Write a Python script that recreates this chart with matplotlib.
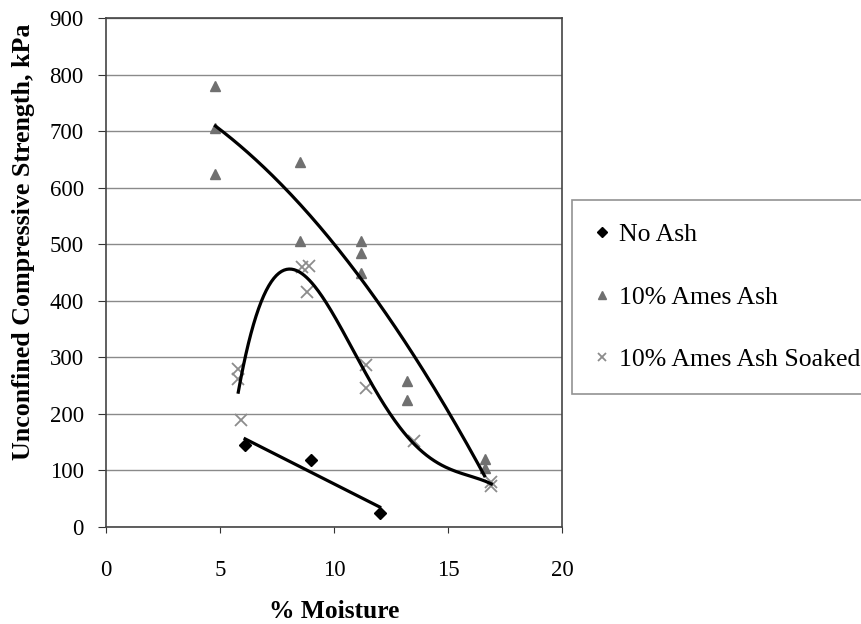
import numpy as np
import matplotlib
matplotlib.use("Agg")
from matplotlib import pyplot as plt

plt.rcParams['font.family'] = ['Liberation Serif', 'DejaVu Serif']

# data
no_ash_x = [6.1, 9.0, 12.0]
no_ash_y = [145, 118, 25]

ames_x = [4.8, 4.8, 4.8, 8.5, 8.5, 11.2, 11.2, 11.2, 13.2, 13.2, 16.6, 16.6]
ames_y = [780, 705, 625, 645, 505, 505, 485, 450, 258, 225, 120, 105]

soaked_x = [5.8, 5.8, 5.9, 8.6, 8.9, 8.8, 11.4, 11.4, 13.5, 16.9, 16.9]
soaked_y = [280, 262, 190, 460, 462, 415, 287, 245, 152, 80, 72]

x_ticks = [0, 5, 10, 15, 20]
y_ticks = [0, 100, 200, 300, 400, 500, 600, 700, 800, 900]


def trend(x, y, deg):
    c = np.polyfit(x, y, deg)
    xs = np.linspace(min(x), max(x), 200)
    return xs, np.polyval(c, xs)


fig = plt.figure(figsize=(8.62, 6.24), dpi=100)
ax = fig.add_axes([0.123, 0.1554, 0.529, 0.8158])

ax.set_axisbelow(True)
ax.yaxis.grid(True, color='#8a8a8a', lw=1.0)

h1, = ax.plot(no_ash_x, no_ash_y, 'D', color='black', ms=6.5, ls='none', label='No Ash')
h2, = ax.plot(ames_x, ames_y, '^', color='#707070', ms=7.5, ls='none', label='10% Ames Ash')
h3, = ax.plot(soaked_x, soaked_y, 'x', color='#8c8c8c', ms=8, mew=1.3, ls='none',
              label='10% Ames Ash Soaked')

# trend lines (linear, 2nd and 4th order polynomial)
for xx, yy, d in [(no_ash_x, no_ash_y, 1), (ames_x, ames_y, 2), (soaked_x, soaked_y, 4)]:
    xs, ys = trend(xx, yy, d)
    ax.plot(xs, ys, color='black', lw=2.3)

ax.set_xlim(0, 20)
ax.set_ylim(0, 900)
ax.set_xticks(x_ticks)
ax.set_yticks(y_ticks)
ax.tick_params(axis='both', labelsize=16.5, direction='out', color='#333333')
ax.tick_params(axis='x', length=4.5, pad=19)
ax.tick_params(axis='y', length=6, pad=10)
for s in ax.spines.values():
    s.set_color('#444444')
    s.set_linewidth(1.2)

ax.set_xlabel('% Moisture', fontsize=18.4, fontweight='bold')
ax.set_ylabel('Unconfined Compressive Strength, kPa', fontsize=18.7, fontweight='bold')
ax.xaxis.set_label_coords(0.5, -0.143)
ax.yaxis.set_label_coords(-0.155, 0.56)

leg = fig.legend(handles=[h1, h2, h3], loc='upper left', bbox_to_anchor=(0.664, 0.679),
                 fontsize=18.5, frameon=True, fancybox=False, handlelength=0.5,
                 handletextpad=0.4, labelspacing=1.53, borderpad=0.9, borderaxespad=0,
                 markerscale=0.8)
leg.get_frame().set_edgecolor('#777777')
leg.get_frame().set_linewidth(1.2)

fig.savefig('out.png', dpi=100)
